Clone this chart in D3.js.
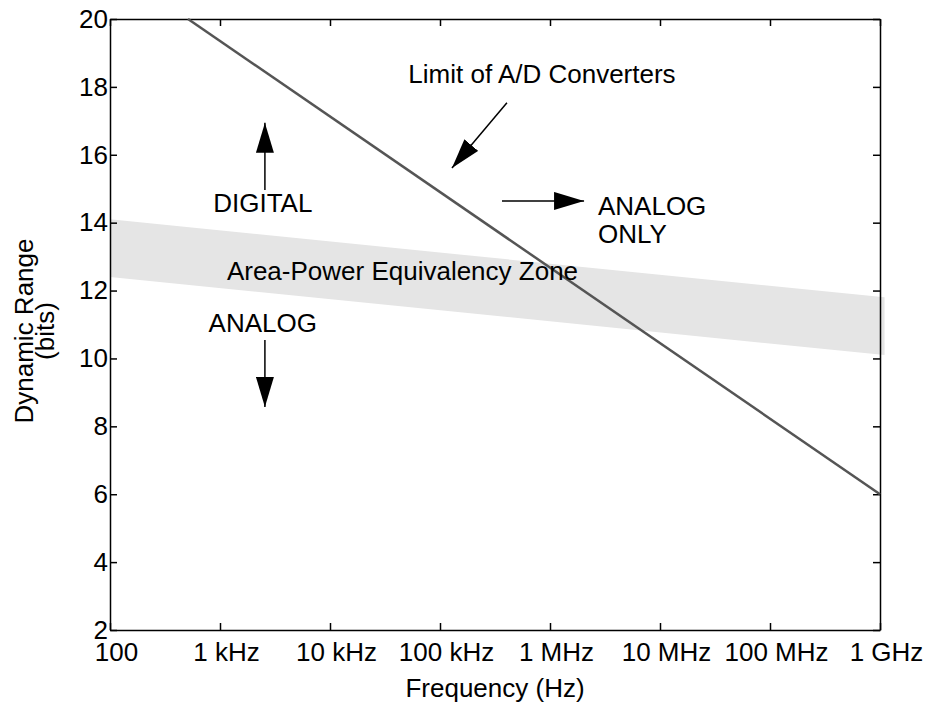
<!DOCTYPE html>
<html lang="en">
<head>
    <meta charset="UTF-8">
    <title>Dynamic Range vs Frequency</title>
    <script src="https://d3js.org/d3.v7.min.js"></script>
    <style>
        html, body {
            margin: 0;
            padding: 0;
            background-color: #fff;
        }
        svg text {
            font-family: 'Liberation Sans', Arial, sans-serif;
            font-size: 26px;
            fill: #000;
        }
    </style>
</head>
<body>
    <div id="graph"></div>
    <script>
        // DATA
        const xTicks = [1e2, 1e3, 1e4, 1e5, 1e6, 1e7, 1e8, 1e9];
        const xLabels = ["100", "1 kHz", "10 kHz", "100 kHz", "1 MHz", "10 MHz", "100 MHz", "1 GHz"];
        const yTicks = [2, 4, 6, 8, 10, 12, 14, 16, 18, 20];

        // limit of A/D converters
        const adFreq = [512, 1e9];
        const adBits = [20, 6];

        // area-power equivalency band
        const bandFreq = [100, 1.1e9];
        const bandUpper = [14.1, 11.8];
        const bandLower = [12.4, 10.1];

        const width = 927, height = 708;
        const margin = {top: 19, left: 110, bottom: 78, right: 47};

        const svg = d3.select("#graph")
            .append("svg")
            .attr("width", width)
            .attr("height", height);

        const x = d3.scaleLog()
            .domain([1e2, 1e9])
            .range([margin.left, width - margin.right]);
        const y = d3.scaleLinear()
            .domain([2, 20])
            .range([height - margin.bottom, margin.top]);

        // arrow head
        svg.append("defs").append("marker")
            .attr("id", "head")
            .attr("markerUnits", "userSpaceOnUse")
            .attr("markerWidth", 30)
            .attr("markerHeight", 18)
            .attr("refX", 30)
            .attr("refY", 9)
            .attr("orient", "auto")
            .append("path")
            .attr("d", "M0,0 L30,9 L0,18 Z")
            .attr("fill", "#000");

        // BAND
        const band = bandFreq.map((f, i) => ({f: f, hi: bandUpper[i], lo: bandLower[i]}));
        svg.append("path")
            .datum(band)
            .attr("fill", "#e5e5e5")
            .attr("d", d3.area()
                .x(d => x(d.f))
                .y0(d => y(d.lo))
                .y1(d => y(d.hi)));

        // AXES
        const xAxis = d3.axisBottom(x)
            .tickValues(xTicks)
            .tickFormat((d, i) => xLabels[i])
            .tickSizeInner(-7)
            .tickSizeOuter(0)
            .tickPadding(13);
        const gx = svg.append("g")
            .attr("transform", `translate(0, ${y(2)})`)
            .call(xAxis);
        gx.selectAll("text").attr("dx", 6);

        svg.append("g")
            .attr("transform", `translate(0, ${y(20)})`)
            .call(d3.axisTop(x).tickValues(xTicks).tickFormat("").tickSizeInner(-7).tickSizeOuter(0));

        svg.append("g")
            .attr("transform", `translate(${x(1e2)}, 0)`)
            .call(d3.axisLeft(y).tickValues(yTicks).tickFormat(d3.format("d")).tickSizeInner(-7).tickSizeOuter(0).tickPadding(2));

        svg.append("g")
            .attr("transform", `translate(${x(1e9)}, 0)`)
            .call(d3.axisRight(y).tickValues(yTicks).tickFormat("").tickSizeInner(-7).tickSizeOuter(0));

        svg.selectAll(".domain, .tick line")
            .attr("stroke", "#000")
            .attr("stroke-width", 1.5);

        // A/D LIMIT LINE
        const adLine = adFreq.map((f, i) => ({f: f, b: adBits[i]}));
        svg.append("path")
            .datum(adLine)
            .attr("fill", "none")
            .attr("stroke", "#555")
            .attr("stroke-width", 2.5)
            .attr("d", d3.line().x(d => x(d.f)).y(d => y(d.b)));

        // ANNOTATIONS
        const arrows = [
            [[4.06e5, 17.53], [1.285e5, 15.61]],
            [[3.66e5, 14.64], [2.04e6, 14.64]],
            [[2560, 14.96], [2560, 16.94]],
            [[2560, 10.54], [2560, 8.57]]
        ];
        svg.selectAll(".arrow")
            .data(arrows).enter()
            .append("line")
            .attr("class", "arrow")
            .attr("x1", d => x(d[0][0]))
            .attr("y1", d => y(d[0][1]))
            .attr("x2", d => x(d[1][0]))
            .attr("y2", d => y(d[1][1]))
            .attr("stroke", "#000")
            .attr("stroke-width", 1.5)
            .attr("marker-end", "url(#head)");

        svg.append("text")
            .attr("x", x(8.45e5)).attr("y", y(18.12))
            .attr("text-anchor", "middle")
            .text("Limit of A/D Converters");

        svg.append("text")
            .attr("x", x(2450)).attr("y", y(14.32))
            .attr("text-anchor", "middle")
            .text("DIGITAL");

        svg.append("text")
            .attr("x", x(2450)).attr("y", y(10.78))
            .attr("text-anchor", "middle")
            .text("ANALOG");

        svg.append("text")
            .attr("x", x(4.56e4)).attr("y", y(12.31))
            .attr("text-anchor", "middle")
            .text("Area-Power Equivalency Zone");

        const only = svg.append("text")
            .attr("x", x(2.73e6)).attr("y", y(14.23));
        only.append("tspan").text("ANALOG");
        only.append("tspan").attr("x", x(2.73e6)).attr("dy", 28).text("ONLY");

        // AXIS TITLES
        svg.append("text")
            .attr("x", (x(1e2) + x(1e9)) / 2)
            .attr("y", 697)
            .attr("text-anchor", "middle")
            .text("Frequency (Hz)");

        const ylab = svg.append("text")
            .attr("transform", `translate(33, 331) rotate(-90)`)
            .attr("text-anchor", "middle");
        ylab.append("tspan").attr("x", 0).attr("y", 0).text("Dynamic Range");
        ylab.append("tspan").attr("x", 0).attr("y", 21).text("(bits)");
    </script>
</body>
</html>
